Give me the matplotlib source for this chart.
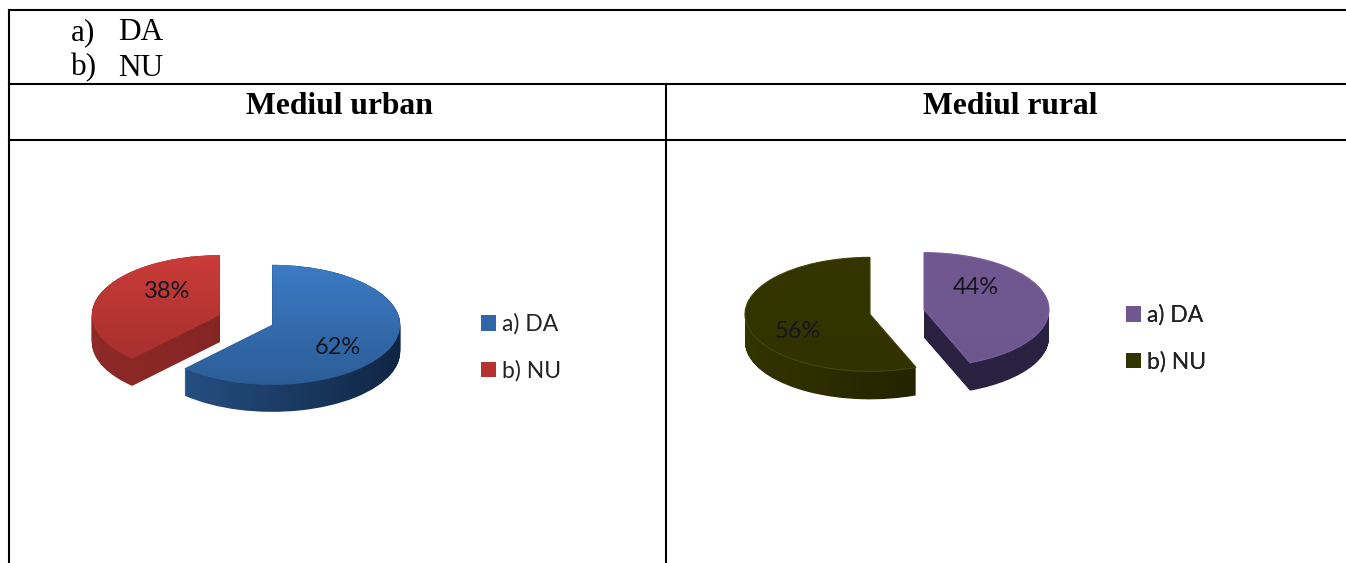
import numpy as np
import matplotlib
matplotlib.use('Agg')
import matplotlib.pyplot as plt
from matplotlib.colors import LinearSegmentedColormap
from matplotlib.patches import Patch
from matplotlib.path import Path

W, H = 1346, 563

categories = ['a) DA', 'b) NU']
urban_values = [62, 38]
rural_values = [44, 56]
headers = ['Mediul urban', 'Mediul rural']


def px_axes(fig, x0, y0, x1, y1):
    # axes box given in image pixels, y going down
    return fig.add_axes([x0 / W, 1 - y1 / H, (x1 - x0) / W, (y1 - y0) / H])


def shade(ax, clip, cols, vertical, zorder, ymin):
    grad = np.linspace(0, 1, 128)
    grad = grad[:, None] if vertical else grad[None, :]
    cmap = LinearSegmentedColormap.from_list('s', cols)
    im = ax.imshow(grad, extent=(-1.3, 1.3, ymin, 1.3), cmap=cmap, origin='upper',
                   aspect='auto', zorder=zorder, interpolation='bilinear')
    im.set_clip_path(clip, ax.transData)


def pie_3d(fig, cx, cy, rx, ry, depth, values, top_cols, side_cols, rim=None):
    ax = px_axes(fig, cx - 1.5 * rx, cy - 1.5 * ry, cx + 1.5 * rx, cy + 1.5 * ry + depth)
    ax.patch.set_alpha(0)
    ymin = -1.5 - depth / ry
    # side: one gradient clipped to the pie swept down through the depth
    paths = [[], []]
    for d in range(depth + 1):
        wedges, _ = ax.pie(values, startangle=90, counterclock=False, explode=(0.22, 0.22),
                           center=(0, -d / ry), radius=1)
        for i, w in enumerate(wedges):
            paths[i].append(w.get_path())
            w.remove()
    for p, c in zip(paths, side_cols):
        shade(ax, Path.make_compound_path(*p), c, False, 2, ymin)
    wedges, _ = ax.pie(values, startangle=90, counterclock=False, explode=(0.22, 0.22),
                       center=(0, 0), radius=1)
    for i, (w, c) in enumerate(zip(wedges, top_cols)):
        shade(ax, w.get_path(), c, True, 3, -1.3)
        if rim:
            w.set(facecolor='none', edgecolor=rim[i], linewidth=0.8, zorder=4)
        else:
            w.remove()
    ax.set_aspect('auto')
    ax.set_xlim(-1.5, 1.5)
    ax.set_ylim(ymin, 1.5)
    ax.axis('off')
    return ax


fig = plt.figure(figsize=(W / 100, H / 100), dpi=100, facecolor='white')

# table frame and text, drawn in pixel coordinates
bg = fig.add_axes([0, 0, 1, 1])
bg.set_xlim(0, W)
bg.set_ylim(H, 0)
bg.axis('off')
lw = 1.5
bg.plot([9, W], [10, 10], color='black', lw=lw)
bg.plot([9, W], [84, 84], color='black', lw=lw)
bg.plot([9, W], [140, 140], color='black', lw=lw)
bg.plot([9, 9], [10, H], color='black', lw=lw)
bg.plot([666, 666], [84, H], color='black', lw=lw)

serif = 'Liberation Serif'
for y, cat in zip([32.5, 68], categories):
    a, b = cat.split(' ')
    bg.text(71, y, a, family=serif, fontsize=22.5, va='center', ha='left', color='black')
    bg.text(118, y, b, family=serif, fontsize=22.5, va='center', ha='left', color='black')
bg.text(339, 107, headers[0], family=serif, fontsize=22.8, fontweight='bold', ha='center', va='center')
bg.text(1010, 107, headers[1], family=serif, fontsize=22.8, fontweight='bold', ha='center', va='center')

pie_3d(fig, 246, 320, 128, 60, 27, urban_values,
       [('#3F80CE', '#2A5A92'), ('#CE3D3A', '#9A2C2A')],
       [('#2F639E', '#0F2340'), ('#8E2A28', '#7A201E')])
pie_3d(fig, 897, 312, 125, 57, 28, rural_values,
       [('#71588F', '#6E578F'), ('#353500', '#323200')],
       [('#2B2140', '#2B2140'), ('#353500', '#161600')],
       rim=['#7A64A0', '#45450C'])

top = fig.add_axes([0, 0, 1, 1])
top.set_xlim(0, W)
top.set_ylim(H, 0)
top.axis('off')

# percent labels
for x, y, v in [(338, 347, urban_values[0]), (167, 291, urban_values[1]),
                (976, 287, rural_values[0]), (798, 331, rural_values[1])]:
    top.text(x, y, f'{v}%', family='Lato', fontsize=17, ha='center', va='center', color='#15151f')

for (lx, ly), cols in [((481, 347.5), ['#2F67A8', '#B5322F']), ((1126, 338.5), ['#6F5891', '#333300'])]:
    handles = [Patch(facecolor=c, edgecolor='none') for c in cols]
    leg = top.legend(handles, categories, loc='center left', bbox_to_anchor=(lx / W, 1 - ly / H),
                     bbox_transform=fig.transFigure, frameon=False, handlelength=0.65, handleheight=0.65,
                     handletextpad=0.26, labelspacing=1.09, prop={'family': 'Lato', 'size': 16.5},
                     labelcolor='#222222', borderpad=0, borderaxespad=0)
    top.add_artist(leg)

fig.savefig('out.png', dpi=100)
